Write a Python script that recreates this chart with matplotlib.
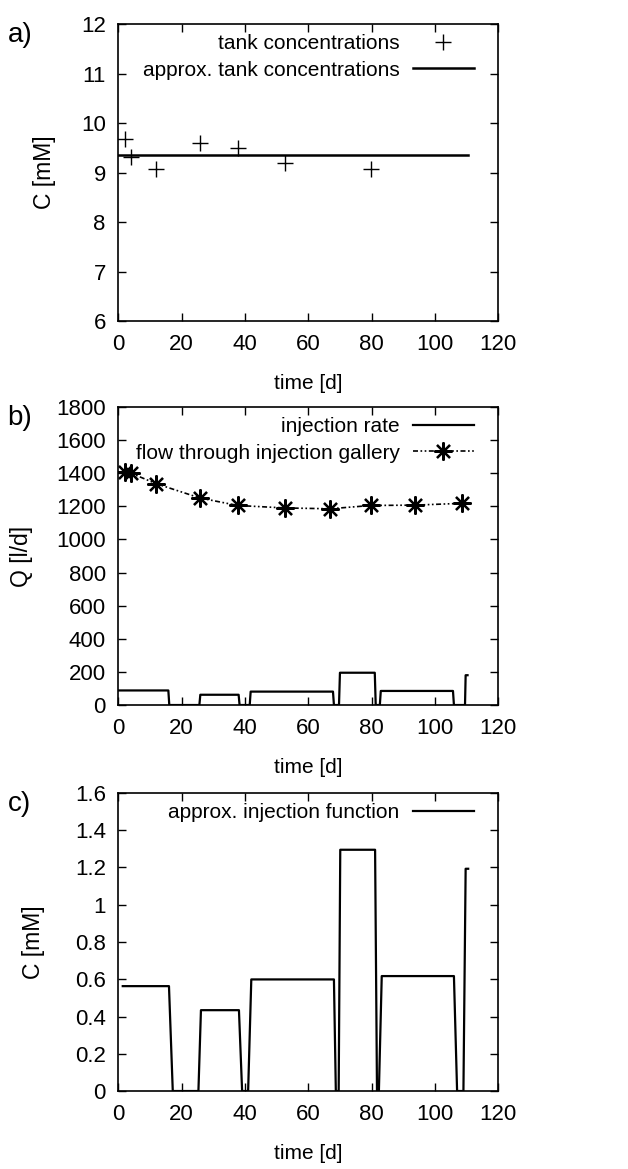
import matplotlib
matplotlib.use('Agg')
import matplotlib.pyplot as plt

plt.rcParams['font.family'] = ['Liberation Sans', 'DejaVu Sans']
plt.rcParams['font.size'] = 15

# a) tank concentrations
tank_t = [2.1, 4.0, 11.9, 25.8, 37.9, 52.8, 79.8]
tank_c = [9.67, 9.31, 9.08, 9.59, 9.50, 9.20, 9.08]
approx_t = [0, 110.5]
approx_c = [9.35, 9.35]

# b) flow rates
flow_t = [2.1, 4.0, 11.9, 25.8, 37.7, 52.6, 66.8, 79.8, 93.7, 108.6]
flow_q = [1410, 1400, 1337, 1250, 1205, 1190, 1185, 1205, 1207, 1218]
inj_t = [0, 15.8, 16.1, 25.6, 25.9, 38.0, 38.3, 41.5, 41.8, 67.8, 68.1, 69.7,
         70.0, 81.0, 81.3, 82.6, 82.9, 105.7, 106.0, 109.5, 109.7, 110.3]
inj_q = [88, 88, 0, 0, 62, 62, 0, 0, 81, 81, 0, 0,
         195, 195, 0, 0, 85, 85, 0, 0, 180, 180]

# c) approx. injection function
func_t = [1.4, 16.0, 17.2, 25.3, 26.1, 38.1, 39.1, 41.0, 42.0, 68.1, 68.7, 69.6,
          70.1, 81.1, 81.7, 82.3, 83.2, 106.0, 107.0, 109.0, 109.7, 110.5]
func_c = [0.563, 0.563, 0, 0, 0.434, 0.434, 0, 0, 0.599, 0.599, 0, 0,
          1.295, 1.295, 0, 0, 0.617, 0.617, 0, 0, 1.193, 1.193]

fig = plt.figure(figsize=(6.28, 11.69), dpi=100)
left, width = 0.1884, 0.605
ax_a = fig.add_axes([left, 0.7254, width, 0.254])
ax_b = fig.add_axes([left, 0.3969, width, 0.255])
ax_c = fig.add_axes([left, 0.0667, width, 0.255])

ax_a.plot(tank_t, tank_c, '+', color='black', markersize=11, markeredgewidth=1,
          label='tank concentrations')
ax_a.plot(approx_t, approx_c, '-', color='black', linewidth=1.8,
          label='approx. tank concentrations')
ax_a.set_ylim(6, 12)
ax_a.set_yticks(range(6, 13))
ax_a.set_ylabel('C [mM]', fontsize=16.5)
ax_a.yaxis.set_label_coords(-0.165, 0.5)

ax_b.plot(inj_t, inj_q, '-', color='black', linewidth=1.6, label='injection rate')
ax_b.plot(flow_t, flow_q, color='black', linewidth=1.2,
          linestyle=(0, (3, 1.5, 1, 1.5, 1, 1.5)), marker=(8, 2, 0),
          markersize=13, markeredgewidth=1.6,
          label='flow through injection gallery')
ax_b.set_ylim(0, 1800)
ax_b.set_yticks(range(0, 1801, 200))
ax_b.set_ylabel('Q [l/d]', fontsize=16.5)
ax_b.yaxis.set_label_coords(-0.225, 0.5)

ax_c.plot(func_t, func_c, '-', color='black', linewidth=1.6,
          label='approx. injection function')
ax_c.set_ylim(0, 1.6)
ax_c.set_yticks([0, 0.2, 0.4, 0.6, 0.8, 1, 1.2, 1.4, 1.6])
ax_c.set_yticklabels(['0', '0.2', '0.4', '0.6', '0.8', '1', '1.2', '1.4', '1.6'])
ax_c.set_ylabel('C [mM]', fontsize=16.5)
ax_c.yaxis.set_label_coords(-0.193, 0.5)

for ax, tag in [(ax_a, 'a)'), (ax_b, 'b)'), (ax_c, 'c)')]:
    ax.set_xlim(0, 120)
    ax.set_xticks(range(0, 121, 20))
    ax.set_xlabel('time [d]', labelpad=14)
    ax.tick_params(direction='in', top=True, right=True, length=6, width=1,
                   pad=9, labelsize=16)
    for s in ax.spines.values():
        s.set_linewidth(1.2)
    ax.legend(loc='upper right', bbox_to_anchor=(0.935, 0.965), frameon=False,
              markerfirst=False, handlelength=2.9, borderaxespad=0, borderpad=0,
              labelspacing=0.35, handletextpad=0.65, fontsize=15)
    pos = ax.get_position()
    fig.text(0.012, pos.y1 + 0.002, tag, fontsize=20, va='top', ha='left')

fig.savefig('out.png', dpi=100)
